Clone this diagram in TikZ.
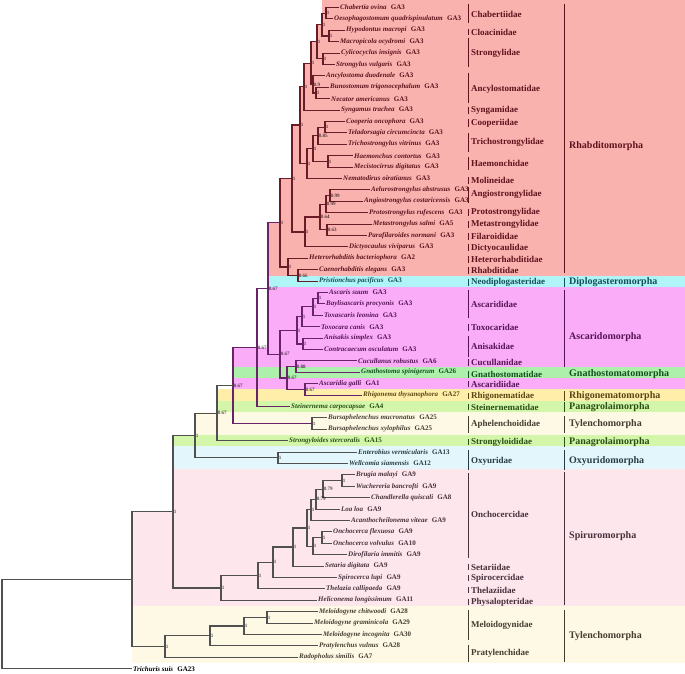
\documentclass[tikz,border=0pt]{standalone}
\usepackage{fontspec}
\setmainfont{Liberation Serif}
\definecolor{rhabbg}{RGB}{250,178,175}
\definecolor{diplbg}{RGB}{175,244,246}
\definecolor{ascabg}{RGB}{250,172,248}
\definecolor{gnatbg}{RGB}{172,240,172}
\definecolor{rhigbg}{RGB}{254,238,170}
\definecolor{panabg}{RGB}{212,246,170}
\definecolor{tylebg}{RGB}{254,249,228}
\definecolor{oxyubg}{RGB}{226,246,252}
\definecolor{spirbg}{RGB}{253,230,236}
\definecolor{cRh}{RGB}{95,18,28}
\definecolor{cDi}{RGB}{20,80,90}
\definecolor{cAs}{RGB}{85,20,85}
\definecolor{cGn}{RGB}{20,80,30}
\definecolor{cRg}{RGB}{90,70,20}
\definecolor{cPa}{RGB}{40,80,20}
\definecolor{cTy}{RGB}{70,60,50}
\definecolor{cOx}{RGB}{40,60,70}
\definecolor{cSp}{RGB}{70,50,60}
\definecolor{rhabln}{RGB}{105,28,38}
\definecolor{ascaln}{RGB}{105,35,105}
\definecolor{othln}{RGB}{80,80,80}
\tikzset{
  sp/.style={anchor=west,inner sep=1pt,font=\fontsize{7}{8}\selectfont\bfseries},
  sup/.style={anchor=west,inner sep=0.6pt,font=\fontsize{5}{6}\selectfont},
  fam/.style={anchor=west,inner sep=1pt,font=\fontsize{9}{10}\selectfont\bfseries},
  ord/.style={anchor=west,inner sep=0pt,font=\fontsize{10}{11}\selectfont\bfseries},
  rb/.style={draw=rhabln,line width=1.1pt},
  ab/.style={draw=ascaln,line width=1.1pt},
  ob/.style={draw=othln,line width=1.1pt},
  bar/.style={line width=0.8pt}
}
\begin{document}
\begin{tikzpicture}[x=1pt,y=-1pt]
\useasboundingbox (0,0) rectangle (685,674);
% coloured bands
\fill[rhabbg] (685,0) -- (322,0) -- (322,24.6) -- (317,24.6) -- (317,41.7) -- (311,41.7) -- (311,63.1) -- (304,63.1)
  -- (304,86.6) -- (300,86.6) -- (300,125) -- (292,125) -- (292,178.5) -- (280,178.5) -- (280,222.8) -- (268,222.8)
  -- (268,276) -- (685,276) -- cycle;
\fill[diplbg] (268,276) rectangle (685,287);
\fill[ascabg] (685,287) -- (268,287) -- (268,347.5) -- (233,347.5) -- (233,389.4) -- (685,389.4) -- cycle;
\fill[gnatbg] (233,366.6) rectangle (685,378);
\fill[rhigbg] (217,389.4) rectangle (685,400.8);
\fill[panabg] (217,400.8) rectangle (685,412.2);
\fill[tylebg] (195,412.2) rectangle (685,435);
\fill[panabg] (173,435) rectangle (685,446.4);
\fill[oxyubg] (173,446.4) rectangle (685,469.2);
\fill[spirbg] (685,469.2) -- (173,469.2) -- (173,511.7) -- (132,511.7) -- (132,606) -- (685,606) -- cycle;
\fill[tylebg] (132,606) rectangle (685,663);
% leaves
\foreach \i/\nm/\ga/\ex/\tc in {
 1/Chabertia ovina/GA3/339/cRh, 2/Oesophagostomum quadrispinulatum/GA3/333/cRh,
 3/Hypodontus macropi/GA3/345/cRh, 4/Macropicola ocydromi/GA3/339/cRh,
 5/Cylicocyclus insignis/GA3/340/cRh, 6/Strongylus vulgaris/GA3/335/cRh,
 7/Ancylostoma duodenale/GA3/325/cRh, 8/Bunostomum trigonocephalum/GA3/329/cRh,
 9/Necator americanus/GA3/330/cRh, 10/Syngamus trachea/GA3/340/cRh,
 11/Cooperia oncophora/GA3/345/cRh, 12/Teladorsagia circumcincta/GA3/347/cRh,
 13/Trichostrongylus vitrinus/GA3/347/cRh, 14/Haemonchus contortus/GA3/353/cRh,
 15/Mecistocirrus digitatus/GA3/353/cRh, 16/Nematodirus oiratianus/GA3/342/cRh,
 17/Aelurostrongylus abstrusus/GA3/370/cRh, 18/Angiostrongylus costaricensis/GA3/363/cRh,
 19/Protostrongylus rufescens/GA3/368/cRh, 20/Metastrongylus salmi/GA5/372/cRh,
 21/Parafilaroides normani/GA3/367/cRh, 22/Dictyocaulus viviparus/GA3/348/cRh,
 23/Heterorhabditis bacteriophora/GA2/308/cRh, 24/Caenorhabditis elegans/GA3/318/cRh,
 25/Pristionchus pacificus/GA3/318/cDi, 26/Ascaris suum/GA3/328/cAs,
 27/Baylisascaris procyonis/GA3/325/cAs, 28/Toxascaris leonina/GA3/323/cAs,
 29/Toxocara canis/GA3/320/cAs, 30/Anisakis simplex/GA3/323/cAs,
 31/Contracaecum osculatum/GA3/323/cAs, 32/Cucullanus robustus/GA6/357/cAs,
 33/Gnathostoma spinigerum/GA26/360/cGn, 34/Ascaridia galli/GA1/318/cAs,
 35/Rhigonema thysanophora/GA27/362/cRg, 36/Steinernema carpocapsae/GA4/290/cPa,
 37/Bursaphelenchus mucronatus/GA25/327/cTy, 38/Bursaphelenchus xylophilus/GA25/327/cTy,
 39/Strongyloides stercoralis/GA15/288/cPa, 40/Enterobius vermicularis/GA13/357/cOx,
 41/Wellcomia siamensis/GA12/348/cOx, 42/Brugia malayi/GA9/355/cSp,
 43/Wuchereria bancrofti/GA9/355/cSp, 44/Chandlerella quiscali/GA8/370/cSp,
 45/Loa loa/GA9/340/cSp, 46/Acanthocheilonema viteae/GA9/350/cSp,
 47/Onchocerca flexuosa/GA9/332/cSp, 48/Onchocerca volvulus/GA10/332/cSp,
 49/Dirofilaria immitis/GA9/347/cSp, 50/Setaria digitata/GA9/324/cSp,
 51/Spirocerca lupi/GA9/337/cSp, 52/Thelazia callipaeda/GA9/325/cSp,
 53/Heliconema longissimum/GA11/317/cSp, 54/Meloidogyne chitwoodi/GA28/318/cTy,
 55/Meloidogyne graminicola/GA29/313/cTy, 56/Meloidogyne incognita/GA30/322/cTy,
 57/Pratylenchus vulnus/GA28/318/cTy, 58/Radopholus similis/GA7/298/cTy,
 59/Trichuris suis/GA23/132/black}{
  \coordinate (e\i) at (\ex,{7.5+(\i-1)*11.4});
  \node[sp,text=\tc] (l\i) at (e\i) {\textit{\nm}\hspace{0.6em}\ga};
}
% internal nodes, children first
\foreach \n/\x/\y/\a/\b/\s/\st in {
 A1/326/13.2/e1/e2/1/rb, A2/329/36/e3/e4/1/rb, A/322/24.6/A1/A2/1/rb,
 B/323/58.8/e5/e6/1/rb, C/317/41.7/A/B/1/rb, D1/316/93/e8/e9/1/rb,
 D/313/84.5/e7/D1/0.9/rb, E/311/63.1/C/D/1/rb, F/304/86.6/E/e10/1/rb,
 G1/325/127.2/e11/e12/1/rb, G/318/135.75/G1/e13/0.85/rb, H1/328/161.4/e14/e15/1/rb,
 H/313/148.6/G/H1/1/rb, I/307/163.5/H/e16/1/rb, J/300/125/F/I/1/rb,
 M1/330/195.6/e17/e18/0.99/rb, M2/326/204.2/M1/e19/0.99/rb, M3/327/229.8/e20/e21/0.63/rb,
 M4/320/217/M2/M3/0.64/rb, M/305/232/M4/e22/1/rb, K/292/178.5/J/M/1/rb,
 P1/298/275.7/e24/e25/0.66/rb, P/288/267/e23/P1/1/rb, N/280/222.8/K/P/1/rb,
 a1/318/298.2/e26/e27/1/ab, a2/313/306.75/a1/e28/1/ab, a3/302/316.7/a2/e29/1/ab,
 a4/303/344/e30/e31/1/ab, a5/297/330.4/a3/a4/1/ab, g1/296/366.6/e32/e33/0.88/ab,
 g2/305/389.4/e34/e35/0.67/ab, g3/287/378/g1/g2/0.67/ab, a6/280/354.2/a5/g3/0.67/ab,
 R/268/288.5/N/a6/0.67/ab, S/257/347.5/R/e36/0.67/ab, Bu/312/423.6/e37/e38/1/ob,
 T/233/385.6/S/Bu/0.67/ab, U/217/413.1/T/e39/0.67/ob, Ox/278/457.8/e40/e41/1/ob,
 V/195/435.5/U/Ox/1/ob, s1/342/480.6/e42/e43/1/ob, s2/323/489.2/s1/e44/0.79/ob,
 s3/316/499.1/s2/e45/0.79/ob, s4/311/509.8/s3/e46/1/ob, o1/322/537.6/e47/e48/1/ob,
 o2/313/546.2/o1/e49/1/ob, s5/307/528/s4/o2/1/ob, s6/293/547/s5/e50/1/ob,
 s7/273/562.3/s6/e51/1/ob, s8/258/575.6/s7/e52/1/ob, s9/221/588/s8/e53/1/ob,
 W/173/511.7/V/s9/1/ob, t1/267/617.4/e54/e55/1/ob, t2/244/626/t1/e56/1/ob,
 t3/210/635.9/t2/e57/1/ob, t4/165/646.6/t3/e58/1/ob, X/132/579.2/W/t4//ob,
 root/2/624/X/e59//ob}{
  \coordinate (\n) at (\x,\y);
  \draw[\st] (\a) -| (\n) |- (\b);
  \node[sup] at (\n) {\s};
}
% families
\foreach \t/\b/\ym/\nm/\tc in {
 4/23/14/Chabertiidae/cRh, 29/35/32/Cloacinidae/cRh, 38/67/53/Strongylidae/cRh,
 73/103/89/Ancylostomatidae/cRh, 107/114/110/Syngamidae/cRh, 119/127/123/Cooperiidae/cRh,
 133/152/142/Trichostrongylidae/cRh, 157/170/163/Haemonchidae/cRh, 177/184/180/Molineidae/cRh,
 187/203/194/Angiostrongylidae/cRh, 209/216/212/Protostrongylidae/cRh, 221/228/224/Metastrongylidae/cRh,
 233/240/236/Filaroididae/cRh, 244/251/248/Dictyocaulidae/cRh, 256/263/259/Heterorhabditidae/cRh,
 267/274/270/Rhabditidae/cRh, 279/286/282/Neodiplogasteridae/cDi, 290/318/304/Ascarididae/cAs,
 324/331/327/Toxocaridae/cAs, 336/357/346/Anisakidae/cAs, 359/366/362/Cucullanidae/cAs,
 371/378/374/Gnathostomatidae/cGn, 381/387/384/Ascaridiidae/cAs, 393/399/396/Rhigonematidae/cRg,
 404/410/407/Steinernematidae/cPa, 416/433/424/Aphelenchoididae/cTy, 439/445/442/Strongyloididae/cPa,
 450/470/461/Oxyuridae/cOx, 473/558/514/Onchocercidae/cSp, 564/570/567/Setariidae/cSp,
 575/581/578/Spirocercidae/cSp, 587/593/590/Thelaziidae/cSp, 599/605/602/Physalopteridae/cSp,
 610/640/625/Meloidogynidae/cTy, 645/662/653/Pratylenchidae/cTy}{
  \draw[bar,draw=\tc] (468,\t) -- (468,\b);
  \node[fam,text=\tc] at (470,\ym) {\nm};
}
% orders
\foreach \t/\b/\ym/\nm/\tc in {
 4/273/146/Rhabditomorpha/cRh, 278/287/282/Diplogasteromorpha/cDi, 290/367/337/Ascaridomorpha/cAs,
 391/401/396/Rhigonematomorpha/cRg, 402/412/407/Panagrolaimorpha/cPa, 416/433/424/Tylenchomorpha/cTy,
 437/447/442/Panagrolaimorpha/cPa, 450/470/461/Oxyuridomorpha/cOx, 472/605/536/Spiruromorpha/cSp,
 610/662/636/Tylenchomorpha/cTy}{
  \draw[bar,draw=\tc] (564,\t) -- (564,\b);
  \node[ord,text=\tc] at (569,\ym) {\nm};
}
\node[ord,text=cGn] (gnato) at (569,374) {Gnathostomatomorpha};
\end{tikzpicture}
\end{document}
